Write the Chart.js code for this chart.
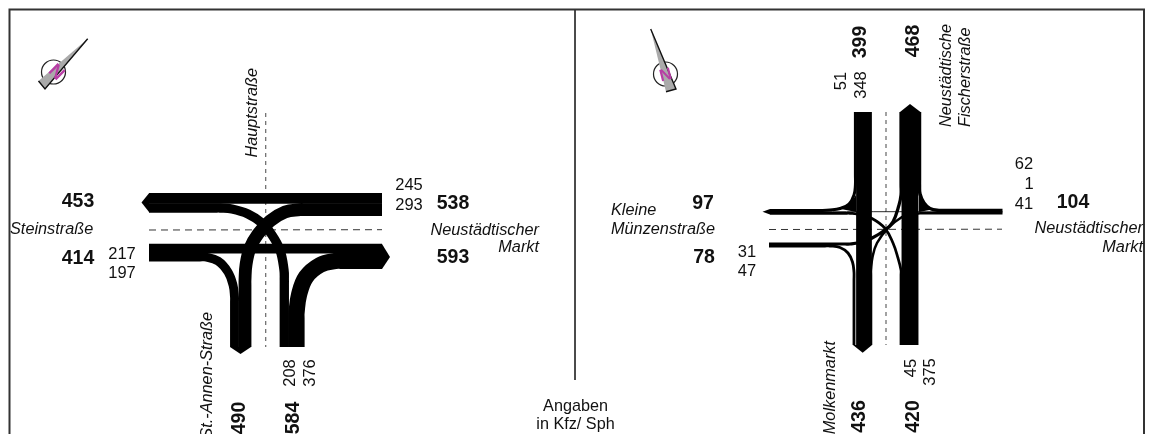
<!DOCTYPE html>
<html><head><meta charset="utf-8">
<script src="https://cdn.jsdelivr.net/npm/chart.js@4"></script>
<style>html,body{margin:0;padding:0;background:#fff}canvas{display:block}</style>
</head><body><canvas id="c" width="1153" height="434"></canvas>
<script>
const P = (...a) => a.map(p => ({x:p[0], y:p[1]}));
// traffic volumes (Kfz)
const leftVolumes = {eastToWest:245, eastToSouth:293, southToWest:208, westToEast:217, westToSouth:197, southToEast:376};
const rightVolumes = {northToSouth:348, northToWest:51, eastToNorth:62, eastToWest:1, eastToSouth:41, westToNorth:31, westToSouth:47, southToWest:45, southToNorth:375};
// ribbon routes, left junction
const routeL_eastToWest = P([382,198.4],[149,198.4]);
const routeL_eastToSouth = P([382,209.6],[305,209.6],[300,209.6],[285,212],[270,221],[258,234],[250,248],[246,265],[245,280],[245,285],[245,347]);
const routeL_southToWest = P([284.3,347],[284.3,285],[284.3,280],[284,270],[280,250],[272,235],[262,223],[248,214],[232,209],[220,208],[215,208],[149,208]);
const routeL_westToEast = P([149,248.6],[382,248.6]);
const routeL_westToSouth = P([149,257],[200,257],[205,257],[218,261],[228,272],[233,285],[234.5,297],[234.5,302],[234.5,347]);
const routeL_southToEast = P([296.5,347],[296.5,318],[296.5,313],[299,295],[306,277],[320,265],[335,261],[345,261],[350,261],[382,261]);
// ribbon routes, right junction
const routeR_northToSouth = P([864,112],[864,345]);
const routeR_northToWest = P([855.4,112],[855.4,175],[855.4,185],[854,195],[849,204],[840,208.5],[830,210],[820,210.5],[815,210.5],[770,210.5]);
const routeR_eastToNorth = P([1002.5,210.5],[945,210.5],[940,210.5],[930,208.5],[924,203],[920,194],[919.5,185],[919.5,180],[919.5,112]);
const routeR_eastToWest = P([1002.5,211.7],[770,211.7]);
const routeR_eastToSouth = P([1002.5,213.3],[925,213.3],[920,213.3],[910,214.5],[902,217],[888,228],[877,243],[872.5,257],[871,270],[871,275],[871,345]);
const routeR_westToNorth = P([769,244],[845,244],[850,244],[862,242],[871.7,238.3],[885,230],[893,221.7],[899,205],[901,195],[901,185],[901,112]);
const routeR_westToSouth = P([769,246],[825,246],[830,246],[840,247.5],[848,253],[852.5,262],[854,272],[854,280],[854,345]);
const routeR_southToWest = P([901,345],[901,275],[901,270],[898,258],[893,243],[885,228.3],[872,218.5],[860,214.5],[850,213.3],[845,213.3],[770,213.3]);
const routeR_southToNorth = P([910,345],[910,112]);
// arrow heads and corner flares
const headsL = [P([149,193.3],[141.5,202.5],[149,212]), P([382,244],[390,257],[382,269]), P([230,347],[240.5,354],[251,347])];
const headsR = [P([770,209],[762.5,211.7],[770,214.5]), P([900,112],[910,104],[920.5,112]), P([853,345],[862.7,352.7],[872,345])];
const flares = [P([856,195],[850,204],[841,209],[856,212]), P([919,195],[924,204],[932,209.5],[919,212])];
// road axes and frame
const dashH = [P([149,230],[382,229.7]), P([769,229.5],[1002,229.2])];
const dashV = [P([265.7,113],[265.7,347]), P([886,112],[886,345])];
const frame = P([9.5,434],[9.5,9.5],[1144,9.5],[1144,434]);
const divider = P([575,10],[575,380]);
// compass
const compassCentres = P([53.5,72],[665.5,74]);
const needleFill = [P([87.7,38.7],[38.5,81],[45,89]), P([650.7,29],[666,91.7],[676,89])];
const needleEdge = [P([87.7,38.7],[45,89],[38.5,81]), P([650.7,29],[676,89],[666,91.7])];

const K_L = 0.041, K_R = 0.043;
const BOLD = 'bold 19.5px "Liberation Sans"', REG = '16.5px "Liberation Sans"', IT = 'italic 16.3px "Liberation Sans"', RS = '16.2px "Liberation Sans"';
const boldLabels = [['453',78,201.5],['538',453,203.5],['414',78,258.5],['593',453,257.5],['97',703,203.5],['104',1073,202.5],['78',704,257.5]];
const boldRotLabels = [['490',240,418],['584',293.5,418],['399',861,42],['468',914,41],['436',860,416.5],['420',913.5,416.5]];
const numLabels = [['245',409,185],['293',409,205],['217',122,254],['197',122,273],['62',1024,164],['41',1024,204],['31',747,252],['47',747,271],['1',1029,184]];
const numRotLabels = [['208',290,373],['376',310,373],['51',841.7,81],['348',861.7,85],['45',911.7,368],['375',930.7,372]];
const italicLeft = [['Steinstraße',10,229],['Kleine',611,210],['Münzenstraße',611,229]];
const italicRight = [['Neustädtischer',539,230],['Markt',539,247],['Neustädtischer',1143,228],['Markt',1143,247]];
const italicRotEnd = [['Hauptstraße',252,68],['St.-Annen-Straße',207,312],['Molkenmarkt',830,341]];
const italicRotStart = [['Neustädtische',946.7,127],['Fischerstraße',965.7,127]];
const noteLabels = [['Angaben',575.5,407],['in Kfz/ Sph',575.5,425]];

const ds = [];
const line = (data,w,c='#000',extra={}) => ds.push({data,borderColor:c,borderWidth:w,showLine:true,pointRadius:0,tension:0,borderCapStyle:'butt',fill:false,...extra});
const shape = (data,c='#000') => ds.push({data,borderColor:c,backgroundColor:c,borderWidth:0,showLine:true,pointRadius:0,tension:0,fill:'shape'});
line(frame,2,'#333');
line(divider,1,'#333');
dashH.forEach(d=>line(d,1,'#333',{borderDash:[7,5]}));
dashV.forEach(d=>line(d,1.2,'#666',{borderDash:[4,4]}));
const ribbon=(r,v,k,extra=0.8)=>line(r,v*k+extra,'#000',{tension:0.4,borderJoinStyle:'round'});
ribbon(routeL_eastToWest,leftVolumes.eastToWest,K_L);
ribbon(routeL_eastToSouth,leftVolumes.eastToSouth,K_L);
ribbon(routeL_southToWest,leftVolumes.southToWest,K_L);
ribbon(routeL_westToEast,leftVolumes.westToEast,K_L);
ribbon(routeL_westToSouth,leftVolumes.westToSouth,K_L);
ribbon(routeL_southToEast,leftVolumes.southToEast,K_L);
ribbon(routeR_northToSouth,rightVolumes.northToSouth,K_R);
ribbon(routeR_northToWest,rightVolumes.northToWest,K_R);
ribbon(routeR_eastToNorth,rightVolumes.eastToNorth,K_R);
ribbon(routeR_eastToWest,rightVolumes.eastToWest,K_R);
ribbon(routeR_eastToSouth,rightVolumes.eastToSouth,K_R);
ribbon(routeR_westToNorth,rightVolumes.westToNorth,K_R,1.9);
ribbon(routeR_westToSouth,rightVolumes.westToSouth,K_R);
ribbon(routeR_southToWest,rightVolumes.southToWest,K_R);
ribbon(routeR_southToNorth,rightVolumes.southToNorth,K_R);
headsL.concat(headsR,flares).forEach(h=>shape(h));
ds.push({data:compassCentres,pointRadius:12,pointBackgroundColor:'#fff',pointBorderColor:'#222',pointBorderWidth:1.2,showLine:false});
needleFill.forEach(n=>shape(n,'#aaa'));
needleEdge.forEach(n=>line(n,1.4,'#111'));
ds.forEach((d,i)=>d.order=-i);

const textPlugin = {id:'txt',afterDatasetsDraw(chart){
  const c=chart.ctx,X=v=>chart.scales.x.getPixelForValue(v),Y=v=>chart.scales.y.getPixelForValue(v);
  const put=(list,font,align,rot,color='#111')=>list.forEach(l=>{c.save();c.translate(X(l[1]),Y(l[2]));c.rotate(rot);c.font=font;c.fillStyle=color;c.textAlign=align;c.textBaseline='middle';c.fillText(l[0],0,0);c.restore();});
  const R=-Math.PI/2;
  put(boldLabels,BOLD,'center',0);
  put(boldRotLabels,BOLD,'center',R);
  put(numLabels,REG,'center',0);
  put(numRotLabels,REG,'center',R);
  put(italicLeft,IT,'left',0);
  put(italicRight,IT,'right',0);
  put(italicRotEnd,IT,'right',R);
  put(italicRotStart,IT,'left',R);
  put(noteLabels,RS,'center',0);
  put([['N',56,72.5]],'bold 19px "Liberation Sans"','center',0.78,'#b83ea5');
  put([['N',665.7,75.5]],'bold 17px "Liberation Sans"','center',-0.25,'#b83ea5');
}};
new Chart(document.getElementById('c'),{type:'scatter',data:{datasets:ds},plugins:[textPlugin],options:{
  responsive:false,animation:false,devicePixelRatio:1,layout:{padding:0,autoPadding:false},
  plugins:{legend:{display:false},tooltip:{enabled:false}},
  scales:{x:{type:'linear',min:0,max:1153,display:false},y:{type:'linear',min:0,max:434,reverse:true,display:false}}
}});
</script></body></html>
